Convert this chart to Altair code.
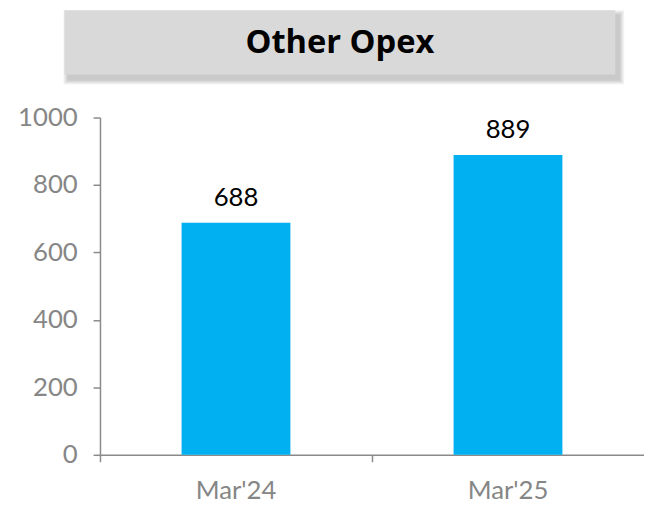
import altair as alt
import pandas as pd

categories = ["Mar'24", "Mar'25"]
values = [688, 889]
y_ticks = [0, 200, 400, 600, 800, 1000]
title_text = "Other Opex"

df = pd.DataFrame({"period": categories, "value": values})
tdf = pd.DataFrame({"title": [title_text]})

FONT = "Lato"
AX = "#8a8a8a"
LAB = "#868686"
BAR = "#00B0F0"

# title box geometry (relative to plot origin)
bx1, bx2, by1, by2 = -36, 521, -108.5, -43.5

layers = []
for s in [5, 4, 3, 2, 1]:
    layers.append(
        alt.Chart(tdf).mark_rect(color="#000000", opacity=0.045).encode(
            x=alt.value(bx1 + 4 - s), x2=alt.value(bx2 + 4 + s),
            y=alt.value(by1 + 5 - s), y2=alt.value(by2 + 5 + s),
        )
    )
layers.append(
    alt.Chart(tdf).mark_rect(color="#D9D9D9").encode(
        x=alt.value(bx1), x2=alt.value(bx2), y=alt.value(by1), y2=alt.value(by2)
    )
)
layers.append(
    alt.Chart(tdf).mark_text(font="Open Sans", fontSize=33, fontWeight="bold", color="#000000",
                             align="center", baseline="middle").encode(
        x=alt.value((bx1 + bx2) / 2), y=alt.value(-75), text="title:N"
    )
)

x_scale = alt.Scale(paddingInner=0, paddingOuter=0)
x_enc = alt.X(
    "period:N", sort=categories, scale=x_scale,
    axis=alt.Axis(title=None, labelAngle=0, bandPosition=0,
                  tickSize=7, tickColor=AX, tickWidth=1.5, domainColor=AX, domainWidth=1.5,
                  labelFont=FONT, labelFontSize=26, labelColor=LAB, labelPadding=16),
)
y_enc = alt.Y(
    "value:Q", scale=alt.Scale(domain=[0, 1000]),
    axis=alt.Axis(title=None, values=y_ticks, format="d", grid=False, tickSize=7, tickColor=AX,
                  tickWidth=1.5, domainColor=AX, domainWidth=1.5, labelFont=FONT, labelFontSize=26,
                  labelColor=LAB, labelPadding=16),
)

base = alt.Chart(df)
bars = base.mark_bar(color=BAR, width=alt.RelativeBandSize(0.4)).encode(x=x_enc, y=y_enc)
labels = base.mark_text(font=FONT, fontSize=26, color="#000000", baseline="alphabetic",
                        align="center", dy=-17).encode(
    x=alt.X("period:N", sort=categories, scale=x_scale), y="value:Q", text="value:Q"
)
layers += [bars, labels]

chart = alt.layer(*layers).properties(
    width=550, height=341,
    autosize=alt.AutoSizeParams(type="none"),
    padding={"left": 93, "top": 108, "right": 0, "bottom": 46},
).configure_view(stroke=None)

chart.save("out.html", embed_options={"renderer": "svg", "actions": False})
